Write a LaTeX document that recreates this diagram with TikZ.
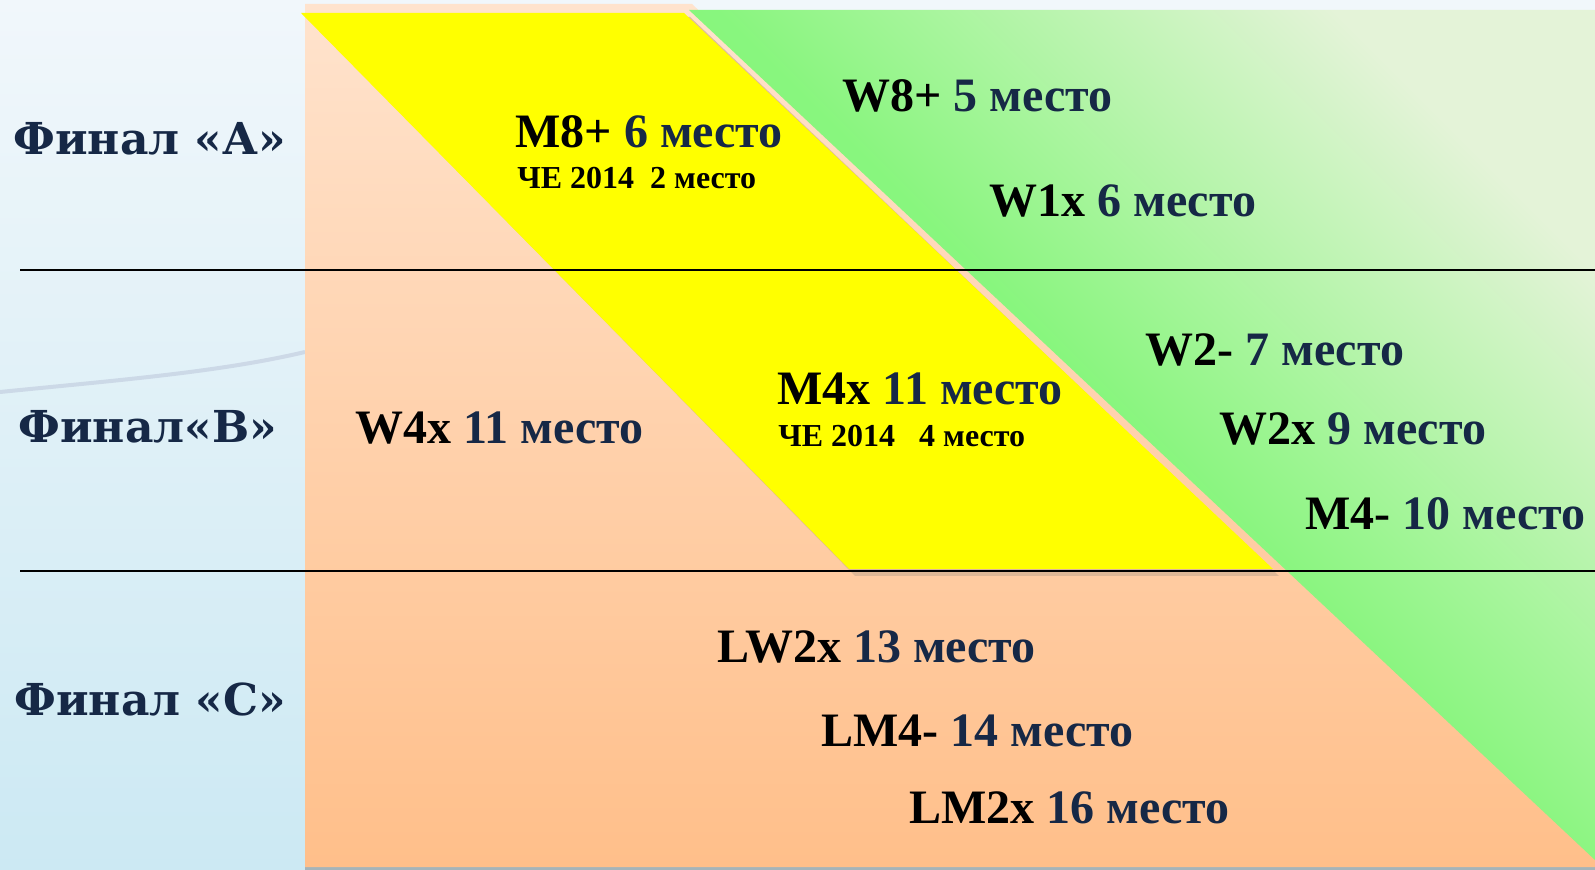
\documentclass[tikz,border=0pt]{standalone}
\usepackage{fontspec}
\setmainfont{Liberation Serif}
\newfontfamily\finalfont{DejaVu Serif}
\usetikzlibrary{positioning}
\definecolor{navy}{RGB}{22,40,70}
\definecolor{lemon}{RGB}{255,255,0}
\definecolor{peachtop}{RGB}{255,227,205}
\definecolor{peachbot}{RGB}{255,191,138}
\definecolor{limegreen}{RGB}{120,246,110}
\definecolor{palegreen}{RGB}{228,243,216}
\definecolor{skytop}{RGB}{241,247,251}
\definecolor{skybot}{RGB}{204,233,243}
\definecolor{tanshadow}{RGB}{214,178,148}
\definecolor{wave}{RGB}{180,188,212}
\tikzstyle{final} = [anchor=base west, inner sep=0pt, text=navy,
    font=\finalfont\bfseries\fontsize{22}{26}\selectfont]
\tikzstyle{result} = [anchor=base west, inner sep=0pt,
    font=\bfseries\fontsize{24}{28}\selectfont]
\tikzstyle{note} = [anchor=base west, inner sep=0pt,
    font=\bfseries\fontsize{16}{18}\selectfont]
\newcommand{\placing}[2]{#1 \textcolor{navy}{#2}}

\begin{document}
\begin{tikzpicture}[x=0.5pt, y=-0.5pt]
  \useasboundingbox (0,0) rectangle (1595,870);
  % Background
  \shade [top color=skytop, bottom color=skybot] (0,0) rectangle (1595,870);
  \draw [wave, line width=2pt, opacity=0.45] (0,392) .. controls (120,380) and (220,372) .. (305,352);
  % Place areas
  \fill [gray, opacity=0.5] (305,866) rectangle (1595,870);
  \shade [top color=peachtop, bottom color=peachbot]
    (305,4) -- (692,4) -- (1595,855) -- (1595,867) -- (305,867) -- cycle;
  \shade [top color=palegreen, bottom color=limegreen,
    middle color=limegreen!85!palegreen, shading angle=-45]
    (689,10) -- (1595,10) -- (1595,860) -- cycle;
  \fill [tanshadow, opacity=0.8] (306,17) -- (690,17) -- (1279,576) -- (855,576) -- cycle;
  \fill [lemon] (301,13) -- (684,13) -- (1273,569) -- (849,569) -- cycle;
  % Draw lines
  \draw [line width=1.4pt] (20,270) -- (1595,270);
  \draw [line width=1.4pt] (20,571) -- (1595,571);
  % Place nodes
  \node [final] (finA) at (13,155) {Финал «А»};
  \node [final] (finB) at (18,443) {Финал«В»};
  \node [final] (finC) at (14,716) {Финал «С»};
  \node [result] (m8) at (515,148) {\placing{M8+}{6 место}};
  \node [note] (m8ce) at (517,189) {ЧЕ 2014\ \ 2 место};
  \node [result] (w8) at (842,112) {\placing{W8+}{5 место}};
  \node [result] (w1) at (989,217) {\placing{W1x}{6 место}};
  \node [result] (w4) at (355,444) {\placing{W4x}{11 место}};
  \node [result] (m4x) at (777,405) {\placing{M4x}{11 место}};
  \node [note] (m4xce) at (778,447) {ЧЕ 2014\ \ \ 4 место};
  \node [result] (w2m) at (1145,366) {\placing{W2-}{7 место}};
  \node [result] (w2x) at (1219,445) {\placing{W2x}{9 место}};
  \node [result] (m4m) at (1305,530) {\placing{M4-}{10 место}};
  \node [result] (lw2) at (717,663) {\placing{LW2x}{13 место}};
  \node [result] (lm4) at (821,747) {\placing{LM4-}{14 место}};
  \node [result] (lm2) at (909,823) {\placing{LM2x}{16 место}};
\end{tikzpicture}
\end{document}
